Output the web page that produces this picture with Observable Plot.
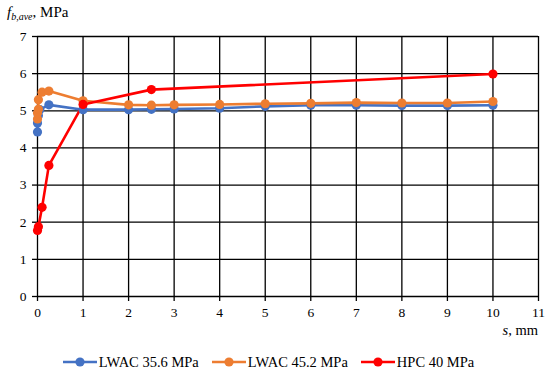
<!DOCTYPE html>
<html>
<head>
<meta charset="utf-8">
<script src="https://cdn.jsdelivr.net/npm/d3@7"></script>
<script src="https://cdn.jsdelivr.net/npm/@observablehq/plot@0.6"></script>
<style>
  body { margin: 0; background: #fff; font-family: 'Liberation Serif', 'Times New Roman', Times, serif; }
  #legend { display: flex; justify-content: center; align-items: center; height: 24px; font-size: 14.5px; color: #000; padding-right: 13px; }
  .item { display: flex; align-items: center; margin: 0 6.5px; }
  .item svg { margin-right: 2px; }
</style>
</head>
<body>
<div id="chart"></div>
<div id="legend"></div>
<script>
// Series data
const seriesNames = ["LWAC 35.6 MPa", "LWAC 45.2 MPa", "HPC 40 MPa"];
const seriesColors = ["#4472C4", "#ED7D31", "#FF0000"];

const sLwac356 = [0, 0, 0.02, 0.05, 0.25, 1, 2, 2.5, 3, 4, 5, 6, 7, 8, 9, 10];
const fLwac356 = [4.43, 4.67, 4.87, 5.03, 5.16, 5.03, 5.03, 5.04, 5.05, 5.07, 5.12, 5.15, 5.15, 5.14, 5.14, 5.15];

const sLwac452 = [0, 0, 0.02, 0.02, 0.1, 0.25, 1, 2, 2.5, 3, 4, 5, 6, 7, 8, 9, 10];
const fLwac452 = [4.78, 4.94, 5.04, 5.30, 5.50, 5.53, 5.27, 5.16, 5.15, 5.16, 5.17, 5.19, 5.20, 5.22, 5.21, 5.21, 5.25];

const sHpc40 = [0, 0.02, 0.1, 0.25, 1, 2.5, 10];
const fHpc40 = [1.78, 1.88, 2.40, 3.53, 5.17, 5.57, 5.99];

const xTicks = [0, 1, 2, 3, 4, 5, 6, 7, 8, 9, 10, 11];
const yTicks = [0, 1, 2, 3, 4, 5, 6, 7];

const toRows = (xs, ys, name) => xs.map((x, i) => ({s: x, f: ys[i], series: name}));
const data = [
  ...toRows(sLwac356, fLwac356, seriesNames[0]),
  ...toRows(sLwac452, fLwac452, seriesNames[1]),
  ...toRows(sHpc40, fHpc40, seriesNames[2])
];

const FONT = "'Liberation Serif', 'Times New Roman', Times, serif";

const chart = Plot.plot({
  width: 550,
  height: 350,
  marginLeft: 37,
  marginRight: 12,
  marginTop: 36,
  marginBottom: 54,
  style: { fontFamily: FONT, fontSize: "13px", color: "#000", background: "#fff" },
  x: { domain: [0, 11], ticks: xTicks, label: null },
  y: { domain: [0, 7], ticks: yTicks, label: null },
  color: { domain: seriesNames, range: seriesColors },
  marks: [
    Plot.gridX(xTicks, { stroke: "#000", strokeOpacity: 1, strokeWidth: 1.3 }),
    Plot.gridY(yTicks, { stroke: "#000", strokeOpacity: 1, strokeWidth: 1.3 }),
    Plot.axisX({ ticks: xTicks, tickSize: 5, tickPadding: 6, tickFormat: d3.format("d"), label: null, strokeWidth: 1.3, fontSize: 13.5 }),
    Plot.axisY({ ticks: yTicks, tickSize: 5, tickPadding: 6, tickFormat: d3.format("d"), label: null, strokeWidth: 1.3, fontSize: 13.5 }),
    Plot.line(data, { x: "s", y: "f", z: "series", stroke: "series", strokeWidth: 2.6 }),
    Plot.dot(data, { x: "s", y: "f", fill: "series", r: 4.6, stroke: "none" })
  ]
});

// Axis titles with italic/subscript parts
const svg = d3.select(chart);
const yl = svg.append("text")
  .attr("x", 7).attr("y", 17)
  .attr("text-anchor", "start")
  .attr("font-size", 15).attr("fill", "#000");
yl.append("tspan").attr("font-style", "italic").text("f");
yl.append("tspan").attr("font-style", "italic").attr("font-size", 10).attr("dy", 3).text("b,ave");
yl.append("tspan").attr("dy", -3).text(", MPa");

const xl = svg.append("text")
  .attr("x", 538).attr("y", 335)
  .attr("text-anchor", "end")
  .attr("font-size", 14.5).attr("fill", "#000");
xl.append("tspan").attr("font-style", "italic").text("s");
xl.append("tspan").text(", mm");

svg.selectAll("text").style("font-family", FONT);

document.getElementById("chart").appendChild(chart);

// Legend
const legend = document.getElementById("legend");
seriesNames.forEach((name, i) => {
  const item = document.createElement("div");
  item.className = "item";
  item.innerHTML = `<svg width="34" height="12"><line x1="0" y1="6" x2="34" y2="6" stroke="${seriesColors[i]}" stroke-width="2.6"/><circle cx="17" cy="6" r="4.6" fill="${seriesColors[i]}"/></svg><span>${name}</span>`;
  legend.appendChild(item);
});
</script>
</body>
</html>
